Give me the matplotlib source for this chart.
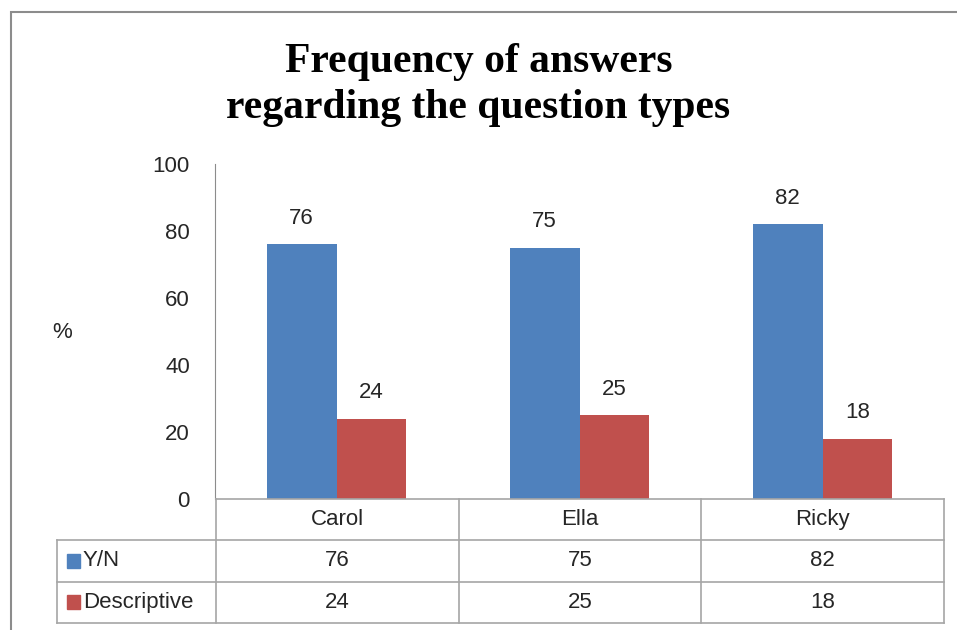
import numpy as np
import matplotlib.pyplot as plt
from matplotlib.patches import Rectangle

students = ["Carol", "Ella", "Ricky"]
series_names = ["Y/N", "Descriptive"]
yn_vals = [76, 75, 82]
desc_vals = [24, 25, 18]
yticks = [0, 20, 40, 60, 80, 100]

blue = "#4F81BD"
red = "#C0504D"
grid_col = "#A6A6A6"
txt_col = "#262626"
font = "Liberation Sans"

W, H = 957, 630
fig = plt.figure(figsize=(W / 100, H / 100), dpi=100)

def fx(px):
    return px / W

def fy(py):
    return 1 - py / H

# outer chart border
fig.patches.append(Rectangle((fx(11), fy(700)), fx(1000), fy(12) - fy(700),
                             transform=fig.transFigure, fill=False,
                             edgecolor="#8C8C8C", lw=1.5))

fig.text(0.5, fy(62), "Frequency of answers", ha="center", va="center",
         family="Liberation Serif", weight="bold", fontsize=30, color="black")
fig.text(0.5, fy(108), "regarding the question types", ha="center", va="center",
         family="Liberation Serif", weight="bold", fontsize=30, color="black")

# bar area
ax = fig.add_axes([fx(215), fy(499), fx(944) - fx(215), fy(164) - fy(499)])
x = np.arange(len(students))
bw = 0.288
b1 = ax.bar(x - bw / 2, yn_vals, bw, color=blue)
b2 = ax.bar(x + bw / 2, desc_vals, bw, color=red)
for bars, vals in ((b1, yn_vals), (b2, desc_vals)):
    for b, v in zip(bars, vals):
        ax.text(b.get_x() + b.get_width() / 2, v + 7.8, str(v), ha="center",
                va="center", fontsize=16, color=txt_col, family=font)

ax.set_xlim(-0.5, 2.5)
ax.set_ylim(0, 100)
ax.set_yticks(yticks)
ax.set_yticklabels([str(t) for t in yticks], fontsize=16, color=txt_col, family=font)
ax.tick_params(axis="y", length=0, pad=18)
ax.set_xticks([])
for s in ["top", "right", "bottom"]:
    ax.spines[s].set_visible(False)
ax.spines["left"].set_color("#8C8C8C")
fig.text(fx(62), fy(333), "%", ha="center", va="center", fontsize=16,
         color=txt_col, family=font)

# data table underneath
tab = fig.add_axes([fx(57), fy(623), fx(944) - fx(57), fy(499) - fy(623)])
left = -0.5 - (216 - 57) / 243
tab.set_xlim(left, 2.5)
tab.set_ylim(3, 0)
tab.axis("off")
lk = dict(color=grid_col, lw=1.2, clip_on=False)
tab.plot([-0.5, 2.5], [0, 0], **lk)
for r in (1, 2, 3):
    tab.plot([left, 2.5], [r, r], **lk)
tab.plot([left, left], [1, 3], **lk)
for c in (-0.5, 0.5, 1.5, 2.5):
    tab.plot([c, c], [0, 3], **lk)

for i, name in enumerate(students):
    tab.text(i, 0.5, name, ha="center", va="center", fontsize=16,
             color=txt_col, family=font)
rows = [yn_vals, desc_vals]
for r, (name, col, vals) in enumerate(zip(series_names, [blue, red], rows)):
    yc = r + 1.5
    tab.add_patch(Rectangle((left + 10 / 243, yc - 0.17), 13 / 243, 0.34,
                            color=col, clip_on=False))
    tab.text(left + 26 / 243, yc, name, ha="left", va="center", fontsize=16,
             color=txt_col, family=font)
    for i, v in enumerate(vals):
        tab.text(i, yc, str(v), ha="center", va="center", fontsize=16,
                 color=txt_col, family=font)

fig.savefig("out.png", dpi=100)
